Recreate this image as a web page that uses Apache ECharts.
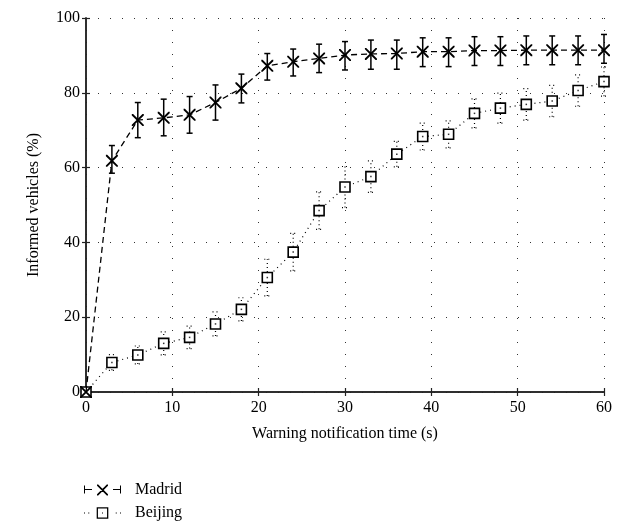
<!DOCTYPE html>
<html>
<head>
<meta charset="utf-8">
<script src="https://cdn.jsdelivr.net/npm/echarts@6/dist/echarts.min.js"></script>
<style>html,body{margin:0;padding:0;background:#fff}#c{width:631px;height:526px}</style>
</head>
<body>
<div id="c"></div>
<script>
var times = [0,3,6,9,12,15,18,21,24,27,30,33,36,39,42,45,48,51,54,57,60];
var madrid = [0,61.8,72.7,73.3,74.1,77.4,81.2,87.2,88.3,89.2,90.1,90.4,90.5,91.0,91.0,91.3,91.3,91.4,91.4,91.4,91.4];
var madridHigh = [0,65.9,77.4,78.3,79.0,82.1,85.0,90.5,91.7,93.0,93.7,94.1,94.1,94.7,94.7,95.0,95.0,95.2,95.2,95.2,95.6];
var madridLow = [0,58.5,68.0,68.5,69.2,72.7,77.3,83.4,84.5,85.4,86.1,86.3,86.3,87.0,87.0,87.3,87.3,87.5,87.5,87.5,87.9];
var beijing = [0,7.9,9.9,13.0,14.6,18.2,22.1,30.6,37.4,48.5,54.8,57.6,63.6,68.3,68.9,74.5,75.9,76.9,77.8,80.6,83.0];
var beijingErr = [0,2.1,2.4,3.1,3.0,3.2,3.1,4.9,5.0,5.0,5.5,4.2,3.4,3.6,3.6,3.9,4.0,4.2,4.2,4.2,3.9];
var xTicks = [0,10,20,30,40,50,60];
var yTicks = [0,20,40,60,80,100];

var FONT = '"Liberation Serif", "DejaVu Serif", serif';
function pairs(ys){ return times.map(function(t,i){ return [t, ys[i]]; }); }
function errData(lo, hi){ return times.map(function(t,i){ return [t, lo[i], hi[i]]; }); }
var bLow = beijing.map(function(v,i){ return v - beijingErr[i]; });
var bHigh = beijing.map(function(v,i){ return v + beijingErr[i]; });

function errRender(dotted, w){
  return function(params, api){
    var lo = api.coord([api.value(0), api.value(1)]);
    var hi = api.coord([api.value(0), api.value(2)]);
    var cap = 3;
    var style = {stroke:'#000', lineWidth:w, lineDash: dotted ? [1,3] : null};
    return {type:'group', children:[
      {type:'line', shape:{x1:lo[0], y1:lo[1], x2:hi[0], y2:hi[1]}, style:style},
      {type:'line', shape:{x1:lo[0]-cap, y1:lo[1], x2:lo[0]+cap, y2:lo[1]}, style:style},
      {type:'line', shape:{x1:hi[0]-cap, y1:hi[1], x2:hi[0]+cap, y2:hi[1]}, style:style}
    ]};
  };
}

var xPath = 'path://M0,0 L1.1,0 L10,8.9 L10,10 L8.9,10 L0,1.1 Z M10,0 L10,1.1 L1.1,10 L0,10 L0,8.9 L8.9,0 Z';
var madridIcon = 'path://M0,2 L1,2 L1,5.5 L8,5.5 L8,6.5 L1,6.5 L1,10 L0,10 Z ' +
  'M13,1 L14.2,1 L24,10.8 L24,12 L22.8,12 L13,2.2 Z M24,1 L24,2.2 L14.2,12 L13,12 L13,10.8 L22.8,1 Z ' +
  'M29,5.5 L36,5.5 L36,2 L37,2 L37,10 L36,10 L36,6.5 L29,6.5 Z';
var beijingIcon = 'path://M1,6 L2,6 L2,7 L1,7 Z M5,6 L6,6 L6,7 L5,7 Z ' +
  'M13,1 L24,1 L24,2.2 L13,2.2 Z M13,10.8 L24,10.8 L24,12 L13,12 Z M13,1 L14.2,1 L14.2,12 L13,12 Z M22.8,1 L24,1 L24,12 L22.8,12 Z ' +
  'M18,6 L19,6 L19,7 L18,7 Z M31,6 L32,6 L32,7 L31,7 Z M35,6 L36,6 L36,7 L35,7 Z';

var chart = echarts.init(document.getElementById('c'), null, {renderer:'canvas'});
var axisLabelStyle = {color:'#000', fontFamily:FONT, fontSize:16};
chart.setOption({
  animation:false,
  backgroundColor:'#fff',
  textStyle:{fontFamily:FONT},
  grid:{left:86, right:27, top:18, bottom:134},
  xAxis:[{
    type:'value', min:0, max:60, interval:10, position:'bottom',
    name:'Warning notification time (s)', nameLocation:'middle', nameGap:34,
    nameTextStyle:{color:'#000', fontFamily:FONT, fontSize:16},
    axisLine:{show:true, lineStyle:{color:'#222', width:1.5}},
    axisTick:{show:true, inside:true, length:4, lineStyle:{color:'#222', width:1.2}},
    axisLabel:Object.assign({margin:8}, axisLabelStyle),
    splitLine:{show:true, lineStyle:{color:'#333', width:1, type:[1,11]}}
  },{
    type:'value', min:0, max:60, interval:10, position:'top',
    axisLine:{show:true, lineStyle:{color:'#222', width:1.5}},
    axisTick:{show:true, inside:true, length:4, lineStyle:{color:'#222', width:1.2}},
    axisLabel:{show:false}, splitLine:{show:false}
  }],
  yAxis:[{
    type:'value', min:0, max:100, interval:20, position:'left',
    name:'Informed vehicles (%)', nameLocation:'middle', nameGap:44,
    nameTextStyle:{color:'#000', fontFamily:FONT, fontSize:16},
    axisLine:{show:true, lineStyle:{color:'#222', width:1.5}},
    axisTick:{show:true, inside:true, length:4, lineStyle:{color:'#222', width:1.2}},
    axisLabel:Object.assign({margin:6}, axisLabelStyle),
    splitLine:{show:true, lineStyle:{color:'#333', width:1, type:[1,11]}}
  },{
    type:'value', min:0, max:100, interval:20, position:'right',
    axisLine:{show:true, lineStyle:{color:'#222', width:1.5}},
    axisTick:{show:true, inside:true, length:4, lineStyle:{color:'#222', width:1.2}},
    axisLabel:{show:false}, splitLine:{show:false}
  }],
  legend:{
    orient:'vertical', left:84, top:482, padding:0, itemGap:7, itemWidth:37, itemHeight:12,
    textStyle:{color:'#000', fontFamily:FONT, fontSize:16, padding:[0,0,0,9]},
    data:[{name:'Madrid', icon:madridIcon, itemStyle:{color:'#000'}},
          {name:'Beijing', icon:beijingIcon, itemStyle:{color:'#000'}}]
  },
  series:[
    {name:'Beijing', type:'custom', renderItem:errRender(true, 1.2), data:errData(bLow, bHigh), z:2, silent:true},
    {name:'Madrid', type:'custom', renderItem:errRender(false, 1.5), data:errData(madridLow, madridHigh), z:2, silent:true},
    {name:'Beijing', type:'line', data:pairs(beijing), symbol:'rect', symbolSize:10,
     lineStyle:{color:'#000', width:1.2, type:[1,4]},
     itemStyle:{color:'#fff', borderColor:'#000', borderWidth:1.6}, z:3},
    {name:'Beijing', type:'scatter', data:pairs(beijing), symbol:'rect', symbolSize:1.5,
     itemStyle:{color:'#000'}, z:4, silent:true},
    {name:'Madrid', type:'line', data:pairs(madrid), symbol:xPath, symbolSize:12,
     lineStyle:{color:'#000', width:1.3, type:[6,4]},
     itemStyle:{color:'#000'}, z:5}
  ]
});
</script>
</body>
</html>
